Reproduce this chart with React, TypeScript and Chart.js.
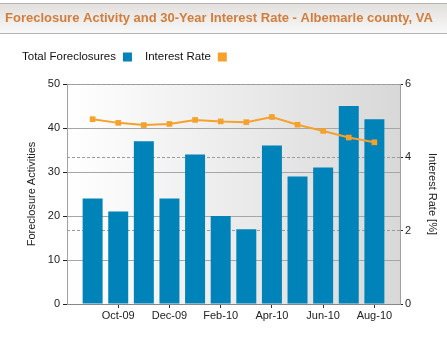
import React, { useEffect, useRef } from 'react';
import { Chart, registerables } from 'chart.js';

Chart.register(...registerables);

const months = ['Sep-09', 'Oct-09', 'Nov-09', 'Dec-09', 'Jan-10', 'Feb-10', 'Mar-10', 'Apr-10', 'May-10', 'Jun-10', 'Jul-10', 'Aug-10'];
const foreclosures = [24, 21, 37, 24, 34, 20, 17, 36, 29, 31, 45, 42];
const interestRate = [5.04, 4.94, 4.88, 4.91, 5.02, 4.98, 4.96, 5.1, 4.89, 4.72, 4.54, 4.41];
const tickMonths = ['Oct-09', 'Dec-09', 'Feb-10', 'Apr-10', 'Jun-10', 'Aug-10'];
const titleText = 'Foreclosure Activity and 30-Year Interest Rate - Albemarle county, VA';
const legendLabels = ['Total Foreclosures', 'Interest Rate'];
const leftAxisTitle = 'Foreclosure Activities';
const rightAxisTitle = 'Interest Rate [%]';

const FONT = '"Liberation Sans", Arial, sans-serif';
const BAR_COLOR = '#0083b9';
const LINE_COLOR = '#f4a22c';

const decor = {
  id: 'decor',
  beforeDraw(chart: any) {
    const { ctx, chartArea } = chart;
    ctx.save();
    // header band
    const hg = ctx.createLinearGradient(0, 3, 0, 33);
    hg.addColorStop(0, '#e2dfdc');
    hg.addColorStop(1, '#f8f8f8');
    ctx.fillStyle = hg;
    ctx.fillRect(0, 3, chart.width, 30);
    ctx.strokeStyle = '#b4b4b4';
    ctx.lineWidth = 1;
    ctx.beginPath();
    ctx.moveTo(0, 3.5);
    ctx.lineTo(chart.width, 3.5);
    ctx.moveTo(0, 33.5);
    ctx.lineTo(chart.width, 33.5);
    ctx.stroke();
    // title
    ctx.font = 'bold 13px ' + FONT;
    ctx.fillStyle = '#d27d3b';
    ctx.textBaseline = 'middle';
    ctx.textAlign = 'left';
    ctx.fillText(titleText, 5, 18);
    // legend
    ctx.font = '11.5px ' + FONT;
    let x = 22;
    const ly = 57;
    const colors = [BAR_COLOR, LINE_COLOR];
    legendLabels.forEach((lab, i) => {
      ctx.fillStyle = '#111111';
      ctx.fillText(lab, x, ly);
      x += ctx.measureText(lab).width + 7;
      ctx.fillStyle = colors[i];
      ctx.fillRect(x, ly - 4.5, 9, 9);
      x += 9 + 13;
    });
    // plot background
    const g = ctx.createLinearGradient(chartArea.left, 0, chartArea.right, 0);
    g.addColorStop(0, '#ffffff');
    g.addColorStop(1, '#d8d8d8');
    ctx.fillStyle = g;
    ctx.fillRect(chartArea.left, chartArea.top, chartArea.right - chartArea.left, chartArea.bottom - chartArea.top);
    ctx.restore();
  },
};

export default function App() {
  const ref = useRef<HTMLCanvasElement>(null);
  useEffect(() => {
    if (!ref.current) return;
    const chart = new Chart(ref.current, {
      type: 'bar',
      data: {
        datasets: [
          {
            type: 'line',
            label: legendLabels[1],
            data: interestRate.map((v, i) => ({ x: i, y: v })),
            yAxisID: 'y1',
            borderColor: LINE_COLOR,
            backgroundColor: LINE_COLOR,
            borderWidth: 2,
            pointStyle: 'rect',
            pointRadius: 4,
            pointBorderWidth: 0,
            order: 0,
          } as any,
          {
            type: 'bar',
            label: legendLabels[0],
            data: foreclosures.map((v, i) => ({ x: i, y: v })),
            yAxisID: 'y',
            backgroundColor: BAR_COLOR,
            barPercentage: 0.78,
            categoryPercentage: 1,
            order: 1,
          },
        ],
      },
      options: {
        animation: false,
        responsive: false,
        maintainAspectRatio: false,
        layout: { padding: { top: 84, left: 0, right: 0, bottom: 0 } },
        plugins: {
          legend: { display: false },
          title: { display: false },
          tooltip: { enabled: false },
        },
        scales: {
          x: {
            type: 'linear',
            min: -1,
            max: 12,
            offset: false,
            afterBuildTicks: (scale: any) => {
              scale.ticks = tickMonths.map((m) => ({ value: months.indexOf(m) }));
            },
            afterFit: (scale: any) => {
              scale.height = 34;
            },
            ticks: {
              callback: (v: any) => months[v as number],
              font: { family: FONT, size: 11 },
              color: '#222',
              maxRotation: 0,
              autoSkip: false,
              padding: 1,
            },
            grid: { drawOnChartArea: false, tickLength: 4, tickColor: '#333', color: '#333', offset: false },
            border: { color: '#888', width: 1 },
          },
          y: {
            position: 'left',
            min: 0,
            max: 50,
            ticks: { stepSize: 10, font: { family: FONT, size: 11 }, color: '#222', padding: 3 },
            grid: { color: '#a6a6a6', tickLength: 4, tickColor: '#222' },
            border: { color: '#a0a0a0' },
            afterFit: (scale: any) => {
              scale.width = 67;
            },
            title: {
              display: true,
              text: leftAxisTitle,
              font: { family: FONT, size: 11 },
              color: '#222',
              padding: { top: 25, bottom: 0 },
            },
          },
          y1: {
            position: 'right',
            min: 0,
            max: 6,
            ticks: { stepSize: 2, font: { family: FONT, size: 11 }, color: '#222', padding: 2 },
            grid: { color: '#9a9a9a', tickLength: 3, tickColor: '#222', tickBorderDash: [] } as any,
            border: { color: '#a0a0a0', dash: [3, 2] },
            afterFit: (scale: any) => {
              scale.width = 47;
            },
            title: {
              display: true,
              text: rightAxisTitle,
              font: { family: FONT, size: 11 },
              color: '#222',
              padding: { top: 8, bottom: 0 },
            },
          },
        },
      },
      plugins: [decor],
    });
    return () => chart.destroy();
  }, []);
  return (
    <div style={{ position: 'absolute', left: 0, top: 0, width: 447, height: 338, background: '#fff' }}>
      <canvas ref={ref} width={447} height={338} style={{ width: 447, height: 338 }} />
    </div>
  );
}
